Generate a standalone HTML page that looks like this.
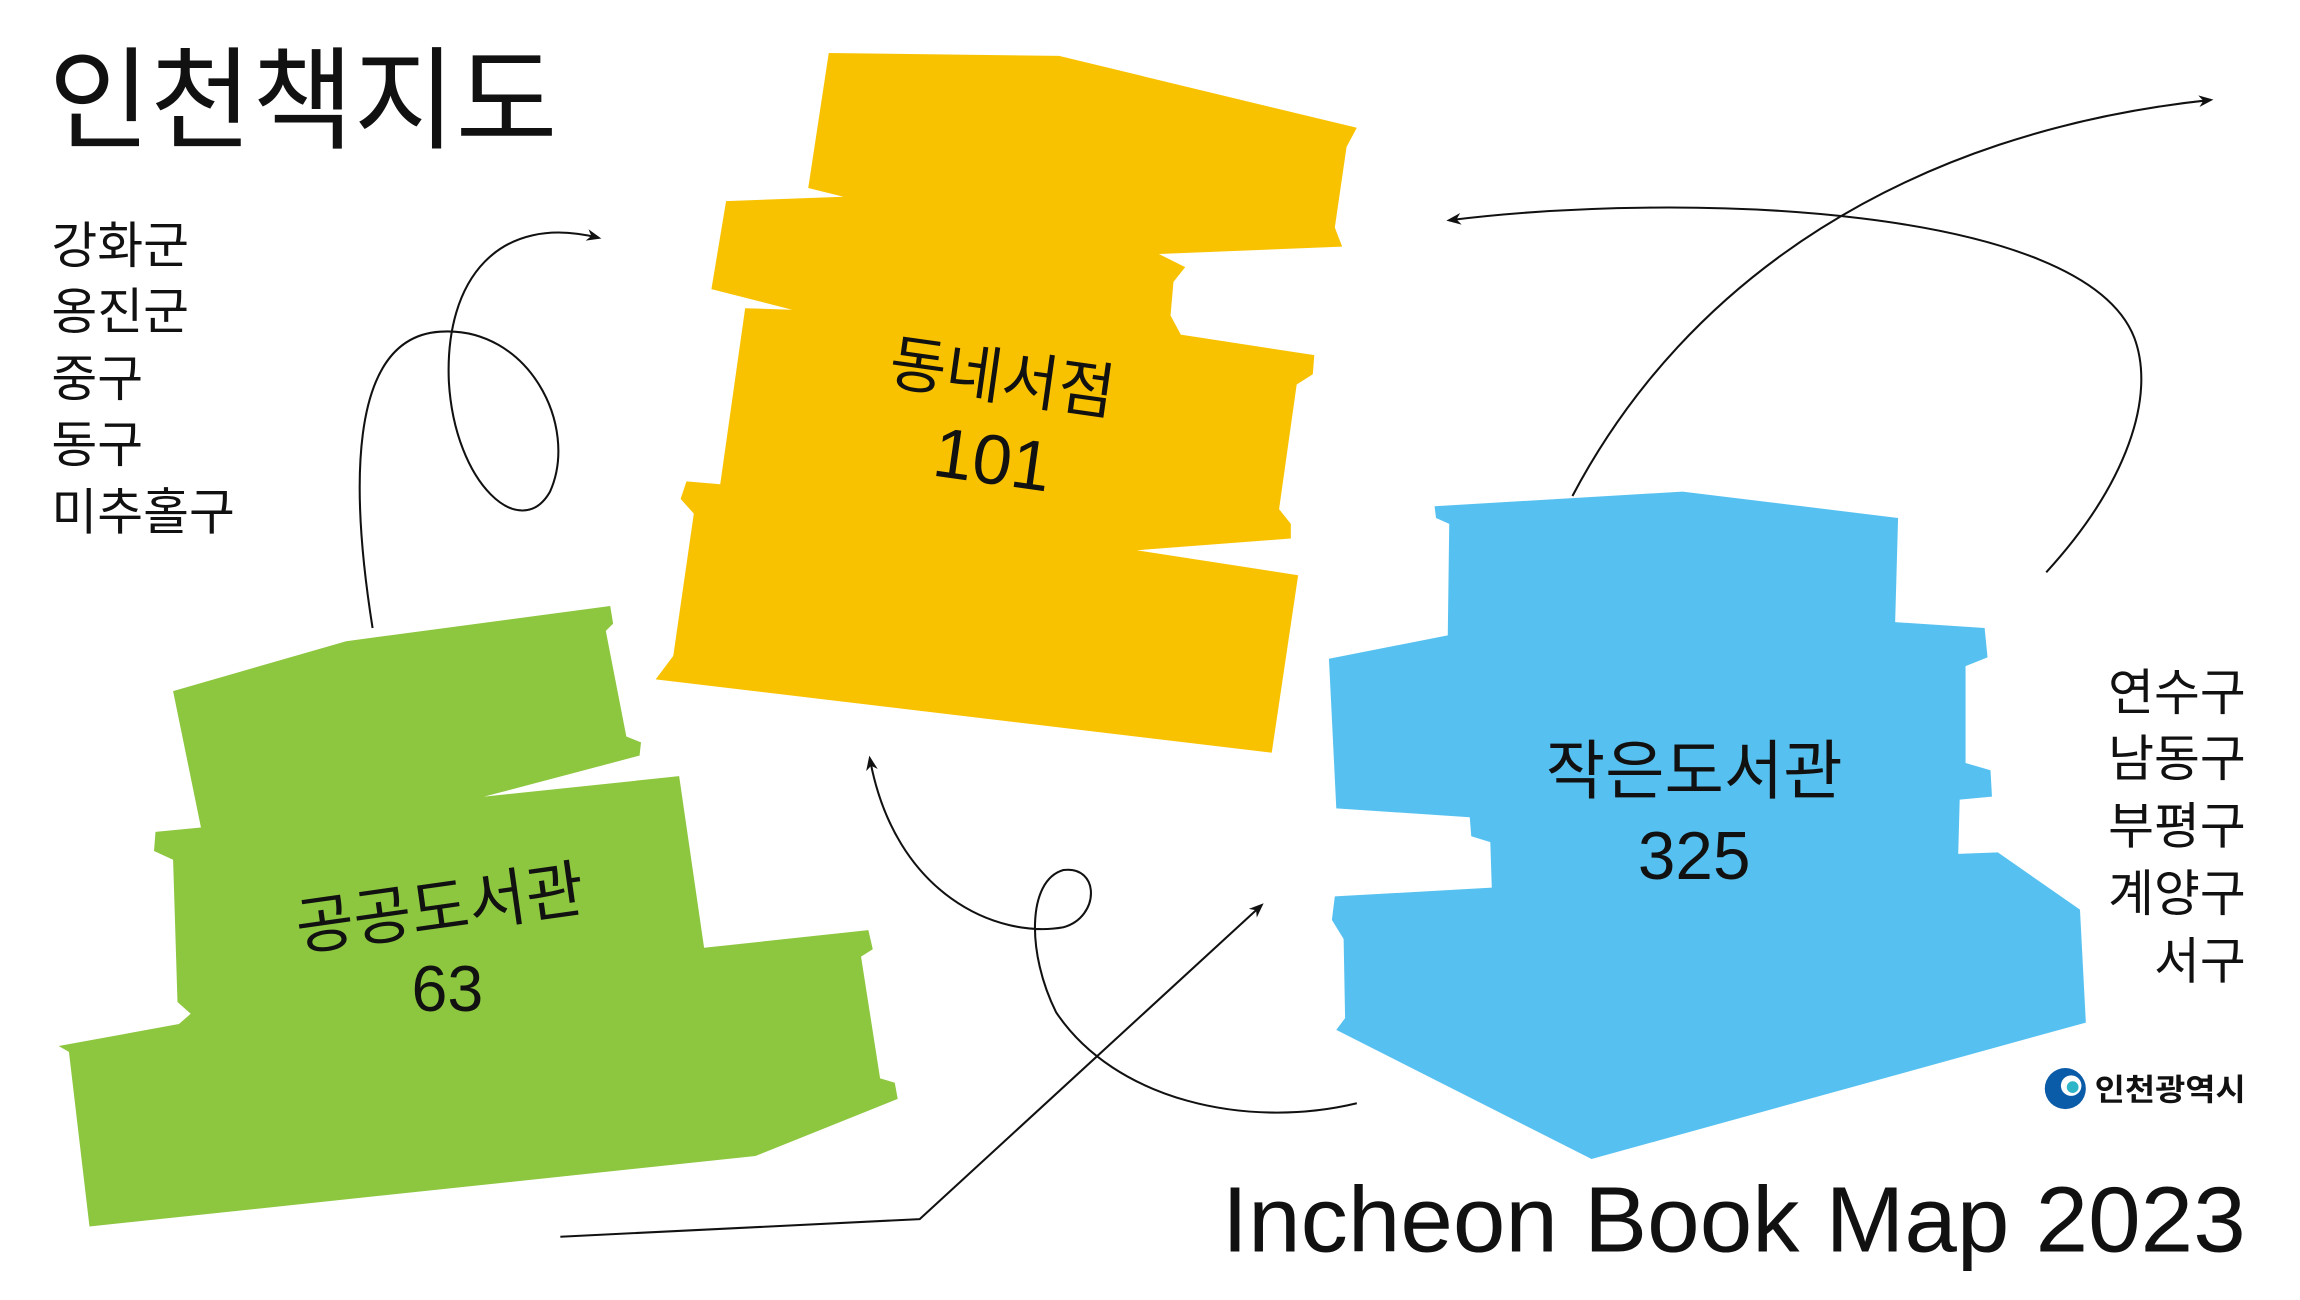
<!DOCTYPE html>
<html><head><meta charset="utf-8"><style>
html,body{margin:0;padding:0;background:#fff;}
svg{display:block;}
text{font-family:"Liberation Sans","Noto Sans CJK KR",sans-serif;fill:#111;}
</style></head><body>
<svg width="2300" height="1300" viewBox="0 0 1568 886" xmlns="http://www.w3.org/2000/svg">
<defs><marker id="a" markerWidth="10" markerHeight="10" refX="8" refY="5" orient="auto" markerUnits="userSpaceOnUse"><path d="M0,1 L10,5 L0,9 L3,5 Z" fill="#111"/></marker></defs>
<polygon fill="#F9C200" points="565,36 722,38 925,87 918,100 910,155 915,168 790,173 808,182 800,192 798,215 805,228 896,242 895,255 884,262 872,347 880,357 880,367 775,375 885,392 867,513 447,463 459,447 473,350 464,340 468,328 491,330 508,210 540,211 485,197 495,137 575,134 551,128"/>
<polygon fill="#8DC63F" points="118,471 236,437 416,413 418,425 413,430 427,502 437,506 436,515 330,543 463,529 480,646 592,634 595,647 587,652 600,735 610,738 612,749 515,788 61,836 47,717 40,713 122,698 130,691 121,683 118,586 105,580 106,567 137,564"/>
<polygon fill="#56C1F0" points="978,345 1147,335 1294,353 1292,424 1353,428 1355,448 1340,454 1340,520 1357,525 1358,543 1336,545 1335,582 1362,581 1418,620 1422,697 1085,790 911,702 917,694 916,640 908,627 910,611 1017,605 1016,574 1003,570 1002,557 911,551 906,449 987,433 988,357 979,353"/>
<g fill="none" stroke="#111" stroke-width="1.4">
<path d="M254,428 C240,340 235,230 300,226 C360,222 395,290 375,335 C355,370 310,330 306,260 C303,190 340,145 408,162" marker-end="url(#a)"/>
<path d="M1395,390 C1450,330 1470,270 1455,230 C1420,140 1150,130 988,150" marker-end="url(#a)"/>
<path d="M1072,338 C1150,190 1300,90 1507,68" marker-end="url(#a)"/>
<path d="M925,752 C850,770 760,750 720,690 C700,650 700,600 725,593 C750,590 750,625 725,632 C680,640 610,610 593,517" marker-end="url(#a)"/>
<path d="M382,843 L627,831 L860,617" marker-end="url(#a)"/>
</g>
<text x="33" y="95" font-size="76" textLength="347" lengthAdjust="spacingAndGlyphs">인천책지도</text>
<g font-size="34"><text x="35" y="179">강화군</text><text x="35" y="224">옹진군</text><text x="35" y="270">중구</text><text x="35" y="315">동구</text><text x="35" y="361">미추홀구</text></g>
<g font-size="34" text-anchor="end"><text x="1531" y="484">연수구</text><text x="1531" y="529">남동구</text><text x="1531" y="575">부평구</text><text x="1531" y="621">계양구</text><text x="1531" y="667">서구</text></g>
<g transform="rotate(8 683 260)" font-size="42" text-anchor="middle"><text x="683" y="272">동네서점</text><text x="684" y="330" font-size="48">101</text></g>
<g transform="rotate(-8 300 620)" font-size="43" text-anchor="middle"><text x="300" y="634">공공도서관</text></g>
<text x="305" y="689" font-size="44" text-anchor="middle">63</text>
<text x="1155" y="541" font-size="44" text-anchor="middle">작은도서관</text>
<text x="1155" y="599" font-size="46" text-anchor="middle">325</text>
<circle cx="1408" cy="742" r="14" fill="#0A5BA8"/><circle cx="1412" cy="740" r="7" fill="#fff"/><circle cx="1413" cy="741" r="4" fill="#2FB5C8"/>
<text x="1428" y="750" font-size="21" font-weight="bold" textLength="103" lengthAdjust="spacingAndGlyphs">인천광역시</text>
<text x="833" y="853" font-size="63" textLength="698" lengthAdjust="spacingAndGlyphs">Incheon Book Map 2023</text>
</svg>
</body></html>
